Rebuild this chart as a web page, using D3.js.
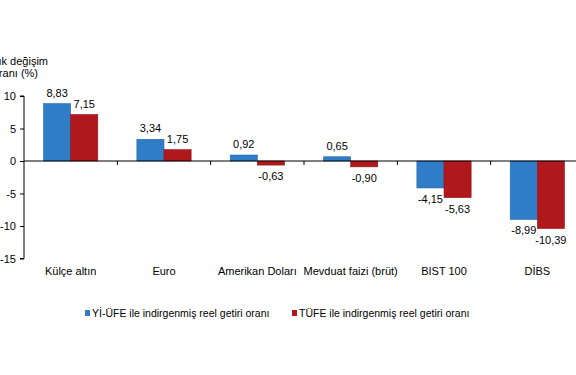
<!DOCTYPE html>
<html>
<head>
<meta charset="utf-8">
<style>
  body { margin: 0; background: #fff; }
  svg { font-family: 'Liberation Sans', Arial, sans-serif; }
</style>
</head>
<body>
<div id="chart"></div>
<script src="https://d3js.org/d3.v7.min.js"></script>
<script>
const categories = ['Külçe altın', 'Euro', 'Amerikan Doları', 'Mevduat faizi (brüt)', 'BIST 100', 'DİBS'];
const yiufe = [8.83, 3.34, 0.92, 0.65, -4.15, -8.99];
const tufe = [7.15, 1.75, -0.63, -0.90, -5.63, -10.39];
const seriesNames = ['Yİ-ÜFE ile indirgenmiş reel getiri oranı', 'TÜFE ile indirgenmiş reel getiri oranı'];
const colors = ['#2f7dc6', '#b0181d'];
const yTicks = [10, 5, 0, -5, -10, -15];

const W = 576, H = 375;
const svg = d3.select('#chart').append('svg').attr('width', W).attr('height', H);

const x = d3.scaleBand().domain(categories).range([24, 584]);
const y = d3.scaleLinear().domain([-15, 10]).range([258.5, 96]);
const inner = d3.scaleBand().domain([0, 1]).range([0, x.bandwidth()]).paddingOuter(0.72).paddingInner(0);

// axis title (cut off on the left like the original)
svg.append('text').attr('x', 48).attr('y', 65).attr('text-anchor', 'end')
  .attr('font-size', 11).attr('fill', '#000').text('Yıllık değişim');
svg.append('text').attr('x', 38).attr('y', 77).attr('text-anchor', 'end')
  .attr('font-size', 11).attr('fill', '#000').text('oranı (%)');

// y axis
const yAxis = svg.append('g').attr('transform', 'translate(24,0)')
  .call(d3.axisLeft(y).tickValues(yTicks).tickSize(4).tickPadding(4).tickFormat(d => String(d)));
yAxis.selectAll('text').attr('font-size', 11).attr('fill', '#000').attr('font-family', 'Liberation Sans, Arial, sans-serif');
yAxis.selectAll('line, path').attr('stroke', '#000');
yAxis.select('.domain').attr('d', `M-4,${y(10)}H0V${y(-15)}H-4`);

// bars
const data = categories.map((c, i) => ({ c, vals: [yiufe[i], tufe[i]] }));
const groups = svg.append('g').selectAll('g').data(data).join('g')
  .attr('transform', d => `translate(${x(d.c)},0)`);

groups.selectAll('rect').data(d => d.vals.map((v, k) => ({ v, k }))).join('rect')
  .attr('x', d => inner(d.k))
  .attr('width', inner.bandwidth())
  .attr('y', d => y(Math.max(0, d.v)))
  .attr('height', d => Math.abs(y(d.v) - y(0)))
  .attr('fill', d => colors[d.k])
  .attr('stroke', d => d3.color(colors[d.k]).darker(0.5))
  .attr('stroke-width', 0.6);

const fmt = v => v.toFixed(2).replace('.', ',');
groups.selectAll('text.val').data(d => d.vals.map((v, k) => ({ v, k }))).join('text')
  .attr('class', 'val')
  .attr('x', d => inner(d.k) + inner.bandwidth() / 2)
  .attr('y', d => d.v >= 0 ? y(d.v) - 7 : y(d.v) + 15)
  .attr('text-anchor', 'middle')
  .attr('font-size', 11).attr('fill', '#000')
  .text(d => fmt(d.v));

// zero line and category ticks
const xAxis = svg.append('g').attr('transform', `translate(0,${y(0)})`);
xAxis.append('line').attr('x1', 24).attr('x2', 584).attr('stroke', '#000');
xAxis.selectAll('line.tk').data(categories.slice(1)).join('line')
  .attr('class', 'tk')
  .attr('x1', d => x(d)).attr('x2', d => x(d)).attr('y1', 0).attr('y2', 4).attr('stroke', '#000');

svg.append('g').selectAll('text').data(categories).join('text')
  .attr('x', d => x(d) + x.bandwidth() / 2)
  .attr('y', 275)
  .attr('text-anchor', 'middle')
  .attr('font-size', 11).attr('fill', '#000')
  .text(d => d);

// legend
const legendX = [85, 292];
const lg = svg.append('g').selectAll('g').data(seriesNames).join('g')
  .attr('transform', (d, i) => `translate(${legendX[i]},313)`);
lg.append('rect').attr('x', 0).attr('y', -3).attr('width', 5).attr('height', 6)
  .attr('fill', (d, i) => colors[i]);
lg.append('text').attr('x', 7).attr('y', 4).attr('font-size', 10.5).attr('fill', '#000').text(d => d);
</script>
</body>
</html>
